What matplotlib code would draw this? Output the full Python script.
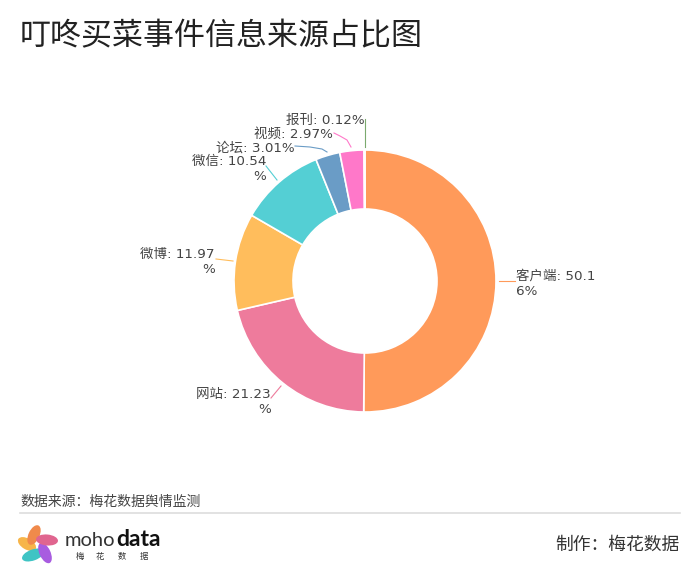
import matplotlib
matplotlib.use('Agg')
from matplotlib import pyplot as plt
from matplotlib.patches import Ellipse

plt.rcParams['font.family'] = ['Noto Sans CJK SC', 'DejaVu Sans']

title = '叮咚买菜事件信息来源占比图'
names = ['客户端', '网站', '微博', '微信', '论坛', '视频', '报刊']
shares = [50.16, 21.23, 11.97, 10.54, 3.01, 2.97, 0.12]
colors = ['#FF9A5A', '#EE7B9C', '#FFBD5C', '#54CFD4', '#6A9CC6', '#FF78C9', '#7BAA6E']
source = '数据来源：梅花数据舆情监测'
maker = '制作：梅花数据'

W, H = 700, 576
fig = plt.figure(figsize=(W / 100, H / 100), dpi=100)

# pie axes, box is in pixels
cx, cy, R = 365, 281, 131
ax = fig.add_axes([(cx - R) / W, 1 - (cy + R) / H, 2 * R / W, 2 * R / H])
ax.pie(shares, colors=colors, startangle=90, counterclock=False, radius=1,
       wedgeprops=dict(width=1 - 72 / 131, edgecolor='white', linewidth=1.2))
ax.set_xlim(-1, 1)
ax.set_ylim(-1, 1)

# overlay in pixel coords for text and leaders
ov = fig.add_axes([0, 0, 1, 1])
ov.set_xlim(0, W)
ov.set_ylim(H, 0)
ov.axis('off')

ov.text(20, 37, title, fontsize=22.3, color='#222222', va='center', ha='left')

txt = '#444444'
lab = dict(fontsize=9.7, color=txt, va='center', linespacing=1.25,
           family=['DejaVu Sans', 'Noto Sans CJK SC'])
ov.text(516, 284, f'{names[0]}: 50.1\n6%', ha='left', **lab)
ov.text(271, 402, f'{names[1]}: 21.23\n%', ha='right', **lab)
ov.text(215, 262, f'{names[2]}: 11.97\n%', ha='right', **lab)
ov.text(266, 169, f'{names[3]}: 10.54\n%', ha='right', **lab)
ov.text(295, 148, f'{names[4]}: 3.01%', ha='right', **lab)
ov.text(333, 134, f'{names[5]}: 2.97%', ha='right', **lab)
ov.text(365, 120, f'{names[6]}: 0.12%', ha='right', **lab)

# leader lines
ov.plot([499, 515], [281, 281], color=colors[0], lw=0.8)
ov.plot([281, 271], [386, 398], color=colors[1], lw=0.8)
ov.plot([233, 216], [261, 259], color=colors[2], lw=0.8)
ov.plot([277, 266], [180, 166], color=colors[3], lw=0.8)
ov.plot([327, 322, 310, 295], [152, 149, 147, 146], color=colors[4], lw=0.8)
ov.plot([351, 347, 340, 334], [147, 140, 136, 133], color=colors[5], lw=0.8)
ov.plot([365, 365], [147, 119], color=colors[6], lw=0.8)

# footer
ov.text(20, 502, source, fontsize=10, color='#444444', va='center', ha='left')
ov.plot([20, 680], [512.5, 512.5], color='#DDDDDD', lw=1.2)
ov.text(680, 545, maker, fontsize=12.8, color='#333333', va='center', ha='right')

# logo
petals = [(27, 544, 20, 11, 30, '#F7B54A'), (34, 535, 11, 21, 25, '#F08A4B'),
          (33, 555, 23, 11, -20, '#3FC4C4'), (45, 553, 11, 22, -25, '#A85CE0'),
          (47, 540, 22, 11, 5, '#E0658F')]
for x, y, w, h, a, c in petals:
    ov.add_patch(Ellipse((x, y), w, h, angle=a, color=c, lw=0))

ov.text(65, 540, 'moho', fontsize=14.5, family='Lato', color='#333333', va='center', ha='left')
ov.text(116, 540, 'data', fontsize=16.5, family='Lato', fontweight='bold', color='#111111', va='center', ha='left')
for x, ch in zip([80, 100, 122, 144], '梅花数据'):
    ov.text(x, 556, ch, fontsize=6, color='#333333', va='center', ha='center')

fig.savefig('out.png', dpi=100)
